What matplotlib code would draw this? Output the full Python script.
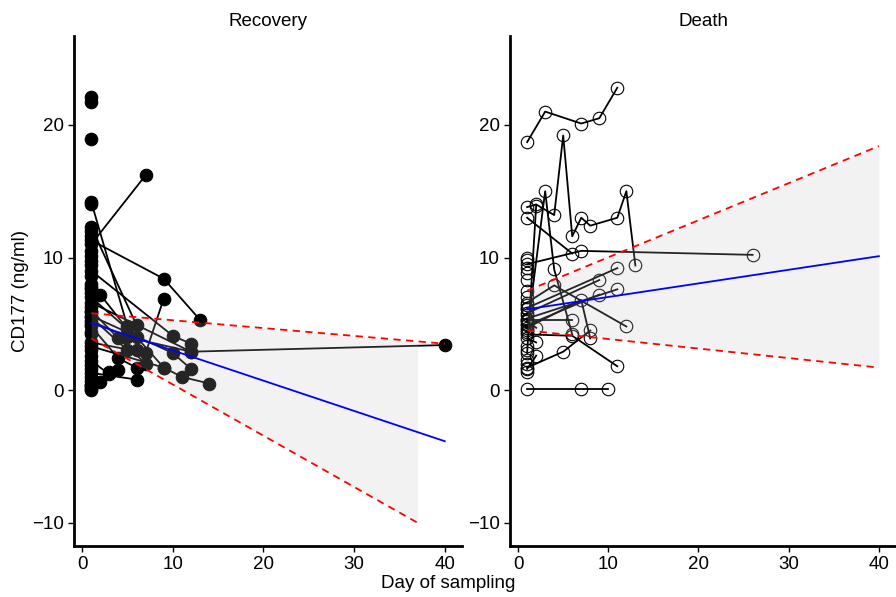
import matplotlib
matplotlib.use("Agg")
import matplotlib.pyplot as plt
import numpy as np

plt.rcParams['font.family'] = ['Liberation Sans', 'DejaVu Sans']

# Recovery patients: sampling days and CD177 values (ng/ml)
rec_days = [[1, 5], [1, 7], [1, 9, 13], [1, 6], [1, 10, 12], [1, 7, 9],
            [1, 5, 12, 40], [1, 2, 5], [1, 10, 12], [1, 9, 11, 14], [1, 4, 6],
            [1, 2, 3], [1, 6], [1, 4, 7], [1, 5, 6], [1, 3, 4], [1, 12], [1, 6, 9]]
rec_vals = [[14.2, 4.8], [11.0, 16.2], [11.3, 8.4, 5.3], [12.3, 4.9], [9.0, 4.1, 3.5],
            [3.6, 2.8, 6.9], [5.2, 4.0, 2.9, 3.4], [7.6, 7.2, 4.6], [5.6, 2.8, 1.6],
            [3.3, 1.7, 1.0, 0.5], [4.8, 2.4, 1.7], [0.4, 0.6, 1.4], [1.3, 0.8],
            [6.0, 3.9, 2.0], [5.5, 3.0, 3.0], [2.2, 1.2, 1.5], [6.6, 2.9], [7.0, 4.0, 1.7]]
rec_single = [22.1, 21.7, 18.9, 14.0, 12.0, 11.6, 10.5, 10.1, 9.7, 9.4, 8.6, 8.0,
              7.8, 7.3, 6.3, 5.9, 5.0, 4.4, 4.2, 3.0, 2.6, 1.9, 1.6, 1.0, 0.7,
              0.4, 0.2, 0.1, 0.0]

# Death patients
dth_days = [[1, 3, 7, 9, 11], [1, 2, 4, 5, 6, 7, 8, 11, 12, 13], [1, 3, 4, 6],
            [1, 2], [1, 6], [1, 7, 26], [1, 9], [1, 11], [1, 9], [1, 11], [1, 4, 12],
            [1, 6, 11], [1, 5, 8], [1, 6], [1, 7, 8], [1, 2], [1, 2], [1, 2], [1, 7, 10]]
dth_vals = [[18.7, 21.0, 20.1, 20.5, 22.8],
            [13.8, 14.0, 13.2, 19.2, 11.6, 13.0, 12.4, 13.0, 15.0, 9.4],
            [4.4, 15.0, 9.1, 4.2], [2.8, 13.9], [13.0, 10.3], [9.5, 10.5, 10.2],
            [5.8, 8.3], [6.2, 9.2], [4.9, 7.2], [5.4, 7.6], [6.6, 7.9, 4.8],
            [4.2, 4.1, 1.8], [1.7, 2.9, 4.5], [5.3, 5.3], [4.7, 6.8, 3.9],
            [1.6, 2.6], [5.2, 4.7], [3.9, 3.6], [0.1, 0.1, 0.1]]
dth_single = [1.4, 2.0, 2.3, 3.0, 3.3, 4.5, 5.0, 5.7, 6.1, 6.4, 7.0, 7.5, 8.3,
              8.8, 9.2, 9.8, 10.0]

# regression fits (line endpoints) and confidence bounds
rec_fit_x = [1, 40]
rec_fit_y = [5.05, -3.85]
rec_hi_x = [1, 40]
rec_hi_y = [5.8, 3.5]
rec_lo_x = [1, 37]
rec_lo_y = [3.9, -10.0]
dth_fit_x = [1, 40]
dth_fit_y = [6.1, 10.1]
dth_hi_x = [1, 40]
dth_hi_y = [7.5, 18.4]
dth_lo_x = [1, 40]
dth_lo_y = [4.5, 1.7]

fig = plt.figure(figsize=(8.96, 5.97), dpi=100)
ax1 = fig.add_axes([74 / 896, 51 / 597, 388 / 896, 510 / 597])
ax2 = fig.add_axes([510 / 896, 51 / 597, 386 / 896, 510 / 597])

fs = 13.5


def panel(ax, days, vals, single, filled, fx, fy, hx, hy, lx, ly, title):
    mfc = 'black' if filled else 'none'
    ms = 9
    for d, v in zip(days, vals):
        ax.plot(d, v, color='black', lw=1.3, marker='o', ms=ms, mfc=mfc,
                mec='black', mew=0.8, zorder=2)
    ax.plot([1] * len(single), single, ls='none', marker='o', ms=ms, mfc=mfc,
            mec='black', mew=0.8, zorder=2)
    # ribbon between confidence bounds
    rx = np.linspace(max(hx[0], lx[0]), min(hx[-1], lx[-1]), 50)
    ax.fill_between(rx, np.interp(rx, lx, ly), np.interp(rx, hx, hy),
                    color='#BEBEBE', alpha=0.2, lw=0, zorder=3)
    ax.plot(fx, fy, color='blue', lw=1.3, zorder=4)
    ax.plot(hx, hy, color='red', lw=1.3, ls=(0, (4, 3)), zorder=4)
    ax.plot(lx, ly, color='red', lw=1.3, ls=(0, (4, 3)), zorder=4)
    ax.set_xlim(-0.9, 41.9)
    ax.set_ylim(-11.75, 26.7)
    ax.set_xticks([0, 10, 20, 30, 40])
    ax.set_yticks([-10, 0, 10, 20])
    ax.set_yticklabels(['\u221210', '0', '10', '20'])
    for s in ['top', 'right']:
        ax.spines[s].set_visible(False)
    for s in ['left', 'bottom']:
        ax.spines[s].set_linewidth(2)
    ax.tick_params(labelsize=fs, length=4, width=1, colors='black')
    ax.set_title(title, fontsize=fs, pad=7)


panel(ax1, rec_days, rec_vals, rec_single, True, rec_fit_x, rec_fit_y,
      rec_hi_x, rec_hi_y, rec_lo_x, rec_lo_y, 'Recovery')
panel(ax2, dth_days, dth_vals, dth_single, False, dth_fit_x, dth_fit_y,
      dth_hi_x, dth_hi_y, dth_lo_x, dth_lo_y, 'Death')

ax1.set_ylabel('CD177 (ng/ml)', fontsize=fs, labelpad=2)
fig.text(0.5, 0.008, 'Day of sampling', ha='center', va='bottom', fontsize=fs)

plt.savefig('out.png', dpi=100)
